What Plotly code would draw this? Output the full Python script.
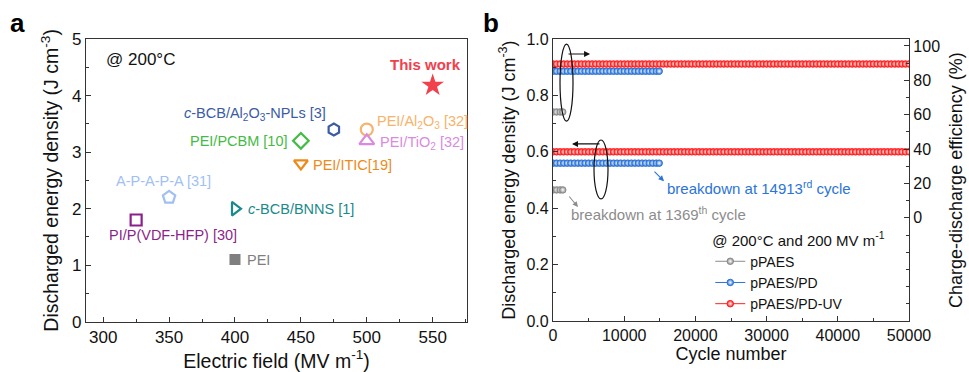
import plotly.graph_objects as go

FONT = "Liberation Sans, Arial, sans-serif"

# ---------------- Panel a data ----------------
a_field = [550, 475, 500, 500, 450, 450, 350, 400, 325, 400]
a_energy = [4.18, 3.40, 3.40, 3.20, 3.20, 2.80, 2.20, 2.00, 1.80, 1.10]
a_labels = ["<b>This work</b>",
            "<i>c</i>-BCB/Al<sub>2</sub>O<sub>3</sub>-NPLs [3]",
            "PEI/Al<sub>2</sub>O<sub>3</sub> [32]",
            "PEI/TiO<sub>2</sub> [32]",
            "PEI/PCBM [10]",
            "PEI/ITIC[19]",
            "A-P-A-P-A [31]",
            "<i>c</i>-BCB/BNNS [1]",
            "PI/P(VDF-HFP) [30]",
            "PEI"]
a_colors = ["#f2404c", "#3b5ba5", "#f7b36b", "#d98be0", "#44bb44",
            "#ee8a1a", "#a0bff5", "#1b8a8c", "#8b1f8b", "#7f7f7f"]
a_symbols = ["star", "hexagon-open", "circle-open", "triangle-up-open", "diamond-open",
             "triangle-down-open", "pentagon-open", "triangle-right-open", "square-open", "square"]
a_sizes = [17, 12, 12, 13, 12, 12, 13, 12, 11, 11]
# label placement relative to the marker: (xanchor, xshift, yshift)
a_label_pos = [("center", -7, 21), ("right", -6, 16), ("left", 8, 8), ("left", 11, -2),
               ("right", -11, 0), ("left", 10, -2), ("center", -6, 16), ("left", 11, 0),
               ("center", 37, -15), ("left", 10, 0)]

# ---------------- Panel b data ----------------
series_names = ["pPAES", "pPAES/PD", "pPAES/PD-UV"]
series_colors = ["#8c8c8c", "#2b74d9", "#ff1f1f"]
cycles_p = [0, 500, 1000, 1369]
cycles_pd = list(range(0, 14501, 500)) + [14913]
cycles_uv = list(range(0, 50001, 500))
energy_level = [0.465, 0.56, 0.60]      # J cm^-3
efficiency_level = [61.6, 85.3, 89.5]   # %
series_cycles = [cycles_p, cycles_pd, cycles_uv]
eff_tick_labels = [0, 20, 40, 60, 80, 100]

fig = go.Figure()

# Panel a traces
for i in range(len(a_field)):
    open_sym = a_symbols[i].endswith("open")
    fig.add_trace(go.Scatter(
        x=[a_field[i]], y=[a_energy[i]], mode="markers", xaxis="x", yaxis="y",
        showlegend=False,
        marker=dict(symbol=a_symbols[i], size=a_sizes[i], color=a_colors[i],
                    line=dict(width=2.2 if open_sym else 0, color=a_colors[i]))))

# Panel b traces
for name, col, cyc, e, eff in zip(series_names, series_colors, series_cycles,
                                  energy_level, efficiency_level):
    mk = dict(symbol="circle", size=6.5, color=col,
              gradient=dict(type="radial", color="white"), line=dict(width=1, color=col))
    fig.add_trace(go.Scatter(x=cyc, y=[e] * len(cyc), mode="lines+markers", name=name,
                             xaxis="x2", yaxis="y2", line=dict(color=col, width=1),
                             marker=mk, showlegend=True))
    fig.add_trace(go.Scatter(x=cyc, y=[eff] * len(cyc), mode="lines+markers", name=name,
                             xaxis="x2", yaxis="y3", line=dict(color=col, width=1),
                             marker=mk, showlegend=False))

axis_common = dict(showline=True, linecolor="#333333", linewidth=1.3, mirror=True,
                   ticks="inside", ticklen=5, tickcolor="#333333", showgrid=False,
                   zeroline=False, automargin=False)

annotations = []
for i in range(len(a_field)):
    xa, xs, ys = a_label_pos[i]
    annotations.append(dict(x=a_field[i], y=a_energy[i], xref="x", yref="y",
                            text=a_labels[i], showarrow=False, xanchor=xa, yanchor="middle",
                            xshift=xs, yshift=ys,
                            font=dict(family=FONT, size=15 if i == 0 else 14.5, color=a_colors[i])))
annotations += [
    dict(x=0.107, y=0.841, xref="paper", yref="paper", text="@ 200°C",
         showarrow=False, xanchor="left", yanchor="middle",
         font=dict(family=FONT, size=17, color="#111")),
    dict(x=0.008, y=0.937, xref="paper", yref="paper", text="<b>a</b>", showarrow=False,
         xanchor="left", yanchor="middle", font=dict(family=FONT, size=26, color="#000")),
    dict(x=0.496, y=0.937, xref="paper", yref="paper", text="<b>b</b>", showarrow=False,
         xanchor="left", yanchor="middle", font=dict(family=FONT, size=26, color="#000")),
    # arrows in panel b
    dict(x=5200, y=0.947, ax=1966, ay=0.947, xref="x2", yref="y2", axref="x2", ayref="y2",
         showarrow=True, arrowhead=2, arrowsize=1, arrowwidth=1.2, arrowcolor="#111", text=""),
    dict(x=2669, y=0.628, ax=6742, ay=0.628, xref="x2", yref="y2", axref="x2", ayref="y2",
         showarrow=True, arrowhead=2, arrowsize=1, arrowwidth=1.2, arrowcolor="#111", text=""),
    dict(x=15590, y=0.496, ax=14045, ay=0.535, xref="x2", yref="y2", axref="x2", ayref="y2",
         showarrow=True, arrowhead=2, arrowsize=1, arrowwidth=1.1, arrowcolor=series_colors[1], text=""),
    dict(x=3511, y=0.404, ax=2107, ay=0.447, xref="x2", yref="y2", axref="x2", ayref="y2",
         showarrow=True, arrowhead=2, arrowsize=1, arrowwidth=1.1, arrowcolor=series_colors[0], text=""),
    dict(x=15730, y=0.475, xref="x2", yref="y2", text="breakdown at 14913<sup>rd</sup> cycle",
         showarrow=False, xanchor="left", yanchor="middle",
         font=dict(family=FONT, size=15, color=series_colors[1])),
    dict(x=2247, y=0.383, xref="x2", yref="y2", text="breakdown at 1369<sup>th</sup> cycle",
         showarrow=False, xanchor="left", yanchor="middle",
         font=dict(family=FONT, size=15, color=series_colors[0])),
]

shapes = [
    dict(type="circle", xref="x2", yref="y2", x0=983, x1=2809, y0=0.709, y1=0.982,
         line=dict(color="#111", width=1.2)),
    dict(type="circle", xref="x2", yref="y2", x0=5758, x1=7725, y0=0.433, y1=0.642,
         line=dict(color="#111", width=1.2)),
]

fig.update_layout(
    width=969, height=372, margin=dict(l=0, r=0, t=0, b=0),
    paper_bgcolor="white", plot_bgcolor="white",
    font=dict(family=FONT, color="#111"),
    xaxis=dict(domain=[0.0888, 0.4819], range=[287, 576], tickvals=[300, 350, 400, 450, 500, 550],
               minor=dict(ticks="inside", ticklen=3, dtick=25, tick0=300, tickcolor="#333"),
               tickfont=dict(size=17), title=dict(text="Electric field (MV m<sup>-1</sup>)",
                                                  font=dict(size=19.5), standoff=6),
               anchor="y", **axis_common),
    yaxis=dict(domain=[0.135, 0.895], range=[0, 5], dtick=1, tick0=0,
               minor=dict(ticks="inside", ticklen=3, dtick=0.5, tick0=0, tickcolor="#333"),
               tickfont=dict(size=17),
               title=dict(text="Discharged energy density (J cm<sup>-3</sup>)",
                          font=dict(size=19.5), standoff=8),
               anchor="x", **axis_common),
    xaxis2=dict(domain=[0.5707, 0.9381], range=[0, 50000], dtick=10000, tick0=0, tickformat="d",
                minor=dict(ticks="inside", ticklen=3, dtick=5000, tick0=0, tickcolor="#333"),
                tickfont=dict(size=16),
                title=dict(text="Cycle number", font=dict(size=18), standoff=3),
                anchor="y2", **axis_common),
    yaxis2=dict(domain=[0.137, 0.895], range=[0, 1], dtick=0.2, tick0=0, tickformat=".1f",
                minor=dict(ticks="inside", ticklen=3, dtick=0.1, tick0=0, tickcolor="#333"),
                tickfont=dict(size=16),
                title=dict(text="Discharged energy density (J cm<sup>-3</sup>)",
                           font=dict(size=18), standoff=6),
                anchor="x2", **axis_common),
    yaxis3=dict(overlaying="y2", side="right", anchor="x2", range=[-60, 104],
                tickmode="array", tickvals=eff_tick_labels,
                minor=dict(ticks="inside", ticklen=3, dtick=10, tick0=0, tickcolor="#333"),
                tickfont=dict(size=16), showline=True, linecolor="#333333", linewidth=1.3,
                ticks="inside", ticklen=5, tickcolor="#333333", showgrid=False, zeroline=False,
                automargin=False,
                title=dict(text="Charge-discharge efficiency (%)", font=dict(size=18), standoff=10)),
    yaxis4=dict(overlaying="y2", side="right", anchor="x2", range=[-60, 104],
                tickmode="array", tickvals=[-60, -40, -20], showticklabels=False,
                ticks="inside", ticklen=5, tickcolor="#333333", showline=False,
                showgrid=False, zeroline=False, automargin=False),
    legend=dict(x=0.733, y=0.392, xanchor="left", yanchor="top", bgcolor="rgba(0,0,0,0)",
                font=dict(family=FONT, size=14, color="#111"), itemwidth=30,
                title=dict(text="@ 200°C and 200 MV m<sup>-1</sup>",
                           font=dict(family=FONT, size=15, color="#111")),
                tracegroupgap=0),
    annotations=annotations, shapes=shapes,
)

# the page's default body margin would offset the figure; remove it
fig.write_html("out.html", config={"displayModeBar": False},
               post_script="document.body.style.margin='0';")
